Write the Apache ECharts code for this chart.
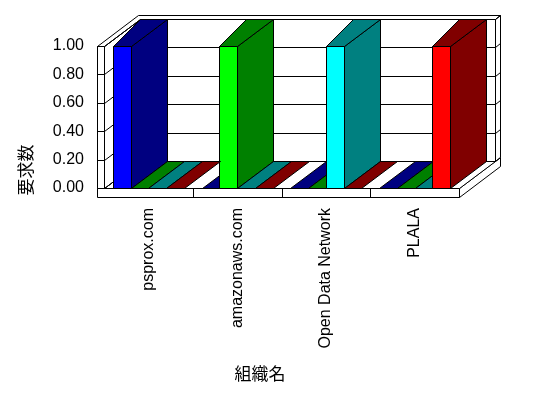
<!DOCTYPE html>
<html lang="ja">
<head>
<meta charset="UTF-8">
<title>組織名別 要求数</title>
<script src="https://cdn.jsdelivr.net/npm/echarts@6.0.0/dist/echarts.min.js"></script>
<style>
  html, body { margin: 0; padding: 0; background: #fff; }
  #chart { width: 548px; height: 398px; }
</style>
</head>
<body>
<div id="chart"></div>
<script>
// データ
var categories = ['psprox.com', 'amazonaws.com', 'Open Data Network', 'PLALA'];
var blueValues = [1, 0, 0, 0];
var greenValues = [0, 1, 0, 0];
var cyanValues = [0, 0, 1, 0];
var redValues = [0, 0, 0, 1];
var yTicks = [0, 0.2, 0.4, 0.6, 0.8, 1.0];

var FONT = '"Liberation Sans", "Noto Sans CJK JP", sans-serif';
var DX = 36, DY = -27;          // 奥行き (ピクセル)
var WALL = 7, FLOOR = 9;        // 壁と床の厚み
var BDX = 5, BDY = -4;          // 後ろの壁の厚み

function px(v) { return Math.round(v) + 0.5; }
function pts(list) { return list.map(function (p) { return [px(p[0]), px(p[1])]; }); }

function renderFrame(params, api) {
    var cs = params.coordSys;
    var x0 = cs.x, x1 = cs.x + cs.width, yt = cs.y, yb = cs.y + cs.height;
    var children = [];
    function poly(list) {
        children.push({ type: 'polygon', shape: { points: pts(list) },
            style: { fill: '#fff', stroke: '#000', lineWidth: 1 } });
    }
    function line(a, b) {
        children.push({ type: 'line',
            shape: { x1: px(a[0]), y1: px(a[1]), x2: px(b[0]), y2: px(b[1]) },
            style: { stroke: '#000', lineWidth: 1 } });
    }
    // 床
    poly([[x0 - WALL, yb], [x1, yb], [x1, yb + FLOOR], [x0 - WALL, yb + FLOOR]]);
    poly([[x1, yb], [x1 + DX + BDX, yb + DY + BDY], [x1 + DX + BDX, yb + FLOOR + DY + BDY], [x1, yb + FLOOR]]);
    poly([[x0, yb], [x1, yb], [x1 + DX, yb + DY], [x0 + DX, yb + DY]]);
    // 壁
    poly([[x0, yb], [x0, yt], [x0 + DX, yt + DY], [x0 + DX, yb + DY]]);
    poly([[x0 + DX, yt + DY], [x1 + DX, yt + DY], [x1 + DX, yb + DY], [x0 + DX, yb + DY]]);
    poly([[x0 - WALL, yt], [x0, yt], [x0, yb], [x0 - WALL, yb]]);
    poly([[x0 - WALL, yt], [x0 - WALL + DX + BDX, yt + DY + BDY], [x1 + DX + BDX, yt + DY + BDY],
          [x1 + DX, yt + DY], [x0 + DX, yt + DY], [x0, yt]]);
    poly([[x1 + DX, yt + DY], [x1 + DX + BDX, yt + DY + BDY], [x1 + DX + BDX, yb + DY + BDY], [x1 + DX, yb + DY]]);
    // 目盛線
    yTicks.forEach(function (v) {
        var y = api.coord([0, v])[1];
        line([x0 - WALL, y], [x0, y]);
        line([x0, y], [x0 + DX, y + DY]);
        line([x0 + DX, y + DY], [x1 + DX, y + DY]);
        line([x1 + DX, y + DY], [x1 + DX + BDX, y + DY + BDY]);
    });
    // 項目の区切り
    for (var i = 1; i < categories.length; i++) {
        var x = x0 + i * cs.width / categories.length;
        line([x, yb], [x, yb + FLOOR]);
    }
    return { type: 'group', children: children };
}

function makeBarRender(slot, front, dark) {
    return function (params, api) {
        var c = api.value(0), v = api.value(1);
        var base = api.coord([c, 0]);
        var top = api.coord([c, v]);
        var band = api.size([1, 0])[0];
        var bw = band * 0.2;
        var l = base[0] - band / 2 + band * 0.1 + slot * bw;
        var r = l + bw;
        var y0 = base[1], y = top[1];
        var st = function (f) { return { fill: f, stroke: '#000', lineWidth: 1 }; };
        var children = [];
        if (v > 0) {
            children.push({ type: 'polygon', shape: { points: pts([[l, y], [r, y], [r, y0], [l, y0]]) }, style: st(front) });
            children.push({ type: 'polygon', shape: { points: pts([[r, y], [r, y0], [r + DX, y0 + DY], [r + DX, y + DY]]) }, style: st(dark) });
            children.push({ type: 'polygon', shape: { points: pts([[l, y], [r, y], [r + DX, y + DY], [l + DX * 0.75, y + DY]]) }, style: st(dark) });
        } else {
            children.push({ type: 'polygon', shape: { points: pts([[l, y], [r, y], [r + DX, y + DY], [l + DX, y + DY]]) }, style: st(dark) });
        }
        return { type: 'group', children: children };
    };
}

var seriesDefs = [
    { values: blueValues, front: '#0000ff', dark: '#000080' },
    { values: greenValues, front: '#00ff00', dark: '#008000' },
    { values: cyanValues, front: '#00ffff', dark: '#008080' },
    { values: redValues, front: '#ff0000', dark: '#800000' }
];

var series = [{
    type: 'custom',
    renderItem: renderFrame,
    data: [[0, 0]],
    clip: false,
    silent: true,
    z: 1
}];
seriesDefs.forEach(function (d, i) {
    series.push({
        type: 'custom',
        renderItem: makeBarRender(i, d.front, d.dark),
        data: d.values.map(function (v, k) { return [k, v]; }),
        encode: { x: 0, y: 1 },
        clip: false,
        z: 3
    });
});

var chart = echarts.init(document.getElementById('chart'));
chart.setOption({
    animation: false,
    backgroundColor: '#fff',
    grid: { left: 104, right: 89, top: 46, bottom: 210 },
    xAxis: {
        type: 'category',
        data: categories,
        axisLine: { show: false },
        axisTick: { show: false },
        axisLabel: { rotate: 90, margin: 20, fontSize: 16, color: '#000', fontFamily: FONT, interval: 0 }
    },
    yAxis: {
        type: 'value',
        min: 0,
        max: 1,
        interval: 0.2,
        axisLine: { show: false },
        axisTick: { show: false },
        splitLine: { show: false },
        axisLabel: {
            margin: 20, fontSize: 16, color: '#000', fontFamily: FONT,
            formatter: function (v) { return v.toFixed(2); }
        }
    },
    graphic: [
        { type: 'text', x: 27, y: 170, rotation: Math.PI / 2,
          style: { text: '要求数', fontSize: 17, fontFamily: FONT, fill: '#000', align: 'center', verticalAlign: 'middle' } },
        { type: 'text', x: 260, y: 375,
          style: { text: '組織名', fontSize: 17, fontFamily: FONT, fill: '#000', align: 'center', verticalAlign: 'middle' } }
    ],
    series: series
});
</script>
</body>
</html>
